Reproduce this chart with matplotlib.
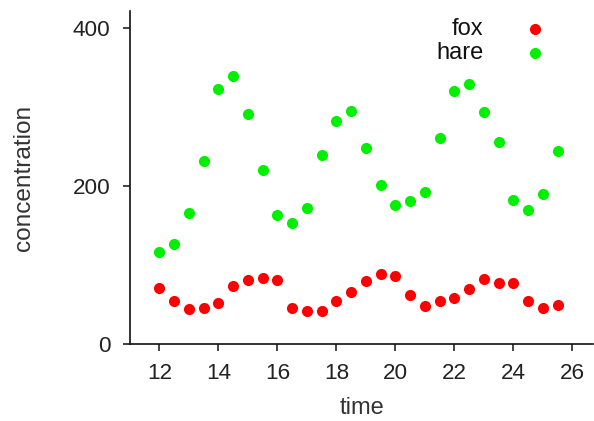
import matplotlib
matplotlib.use("Agg")
import matplotlib.pyplot as plt

plt.rcParams['font.family'] = ['Liberation Sans', 'DejaVu Sans']

time = [12, 12.5, 13, 13.5, 14, 14.5, 15, 15.5, 16, 16.5, 17, 17.5, 18, 18.5,
        19, 19.5, 20, 20.5, 21, 21.5, 22, 22.5, 23, 23.5, 24, 24.5, 25, 25.5]
fox = [71, 54, 44, 46, 52, 74, 81, 84, 81, 45, 42, 42, 55, 66,
       80, 89, 86, 62, 48, 55, 58, 70, 82, 77, 77, 54, 45, 49]
hare = [116, 127, 166, 232, 323, 340, 292, 221, 163, 153, 172, 239, 282, 295,
        249, 201, 176, 181, 192, 261, 320, 329, 294, 256, 182, 170, 190, 244]
xticks = [12, 14, 16, 18, 20, 22, 24, 26]
yticks = [0, 200, 400]

fig = plt.figure(figsize=(5.94, 4.21), dpi=100)
ax = fig.add_axes([130/594, 77/421, 463/594, 333/421])

ax.scatter(time, fox, s=64, color='#ff0000', linewidths=0, label='fox', zorder=3)
ax.scatter(time, hare, s=64, color='#00f000', linewidths=0, label='hare', zorder=3)

ax.set_xlim(11.0, 26.7)
ax.set_ylim(0, 422)
ax.set_xticks(xticks)
ax.set_yticks(yticks)

for s in ['top', 'right']:
    ax.spines[s].set_visible(False)
for s in ['left', 'bottom']:
    ax.spines[s].set_linewidth(1.2)
    ax.spines[s].set_color('#111111')

ax.tick_params(direction='out', length=5, width=1.1, color='#111111',
               labelsize=16.2, labelcolor='#222222', pad=9)

ax.set_xlabel('time', fontsize=17, color='#333333', labelpad=9)
ax.set_ylabel('concentration', fontsize=17.6, color='#333333', labelpad=27)

leg = ax.legend(loc='upper right', bbox_to_anchor=(547/594, 1 - 18/421),
                bbox_transform=fig.transFigure, frameon=False, markerfirst=False,
                fontsize=17, handlelength=1.0, handletextpad=1.7,
                labelspacing=0.1, borderpad=0, borderaxespad=0)
for t in leg.get_texts():
    t.set_color('#111111')

fig.savefig('out.png', dpi=100)
